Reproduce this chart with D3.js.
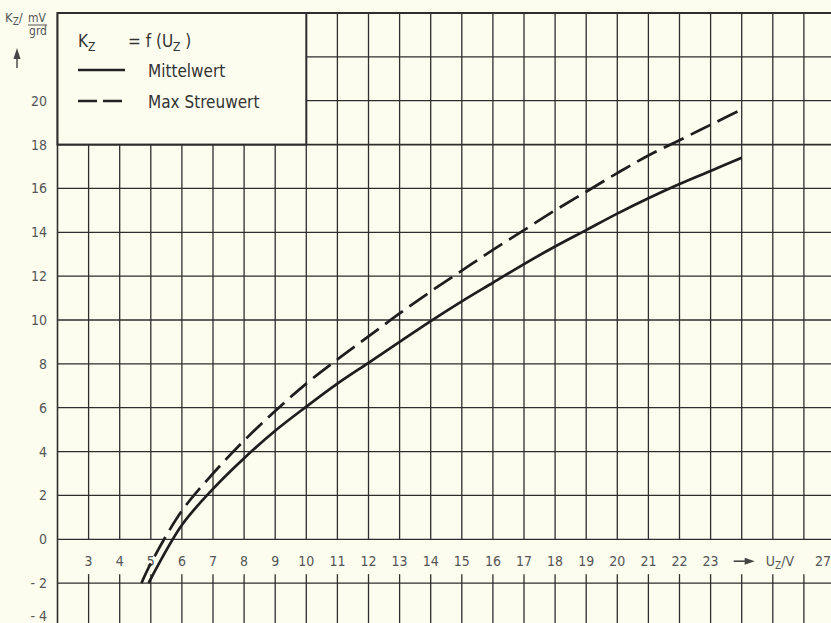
<!DOCTYPE html>
<html>
<head>
<meta charset="utf-8">
<script src="https://cdn.jsdelivr.net/npm/d3@7"></script>
<style>
  body { margin: 0; background: #fcfcef; }
  svg { display: block; }
  text { font-family: "DejaVu Sans Condensed", "DejaVu Sans", sans-serif; }
</style>
</head>
<body>
<div id="chart"></div>
<script>
// Data: K_z (mV/grd) over U_z (V)
const uzMittel = [4.93, 5, 6, 7, 8, 9, 10, 11, 12, 13, 14, 15, 16, 17, 18, 19, 20, 21, 22, 23, 24];
const kzMittel = [-2, -1.8, 0.65, 2.3, 3.7, 4.95, 6.05, 7.1, 8.05, 9.0, 9.95, 10.85, 11.7, 12.55, 13.35, 14.1, 14.85, 15.55, 16.2, 16.8, 17.4];
const uzMax = [4.7, 5, 6, 7, 8, 9, 10, 11, 12, 13, 14, 15, 16, 17, 18, 19, 20, 21, 22, 23, 24];
const kzMax = [-2, -1.1, 1.3, 3.0, 4.5, 5.85, 7.1, 8.2, 9.25, 10.3, 11.3, 12.25, 13.2, 14.1, 15.0, 15.85, 16.7, 17.5, 18.2, 18.9, 19.6];

const xTicks = [3, 4, 5, 6, 7, 8, 9, 10, 11, 12, 13, 14, 15, 16, 17, 18, 19, 20, 21, 22, 23];
const xGrid = [3, 4, 5, 6, 7, 8, 9, 10, 11, 12, 13, 14, 15, 16, 17, 18, 19, 20, 21, 22, 23, 24, 25, 26, 27];
const yTicks = [20, 18, 16, 14, 12, 10, 8, 6, 4, 2, 0, -2];
const yGrid = [22, 20, 18, 16, 14, 12, 10, 8, 6, 4, 2, 0, -2, -4];

const width = 831, height = 623;
const ink = "#2e2e2e";

const svg = d3.select("#chart")
    .append("svg")
    .attr("width", width)
    .attr("height", height);

svg.append("rect")
    .attr("width", width)
    .attr("height", height)
    .attr("fill", "#fcfcef");

const x = d3.scaleLinear().domain([2, 27]).range([57.5, 835]);
const y = d3.scaleLinear().domain([-4, 24]).range([627, 13]);

const grid = svg.append("g");

// vertical grid lines, broken by the label band between 0 and -2
xGrid.forEach(v => {
    const top = v <= 10 ? y(18) : y(24);
    grid.append("line")
        .attr("x1", x(v)).attr("x2", x(v))
        .attr("y1", top).attr("y2", y(0))
        .attr("stroke", ink).attr("stroke-width", 1.3);
    grid.append("line")
        .attr("x1", x(v)).attr("x2", x(v))
        .attr("y1", y(-2) - 9).attr("y2", height)
        .attr("stroke", ink).attr("stroke-width", 1.3);
});

// left border
grid.append("line")
    .attr("x1", x(2)).attr("x2", x(2))
    .attr("y1", y(24)).attr("y2", height)
    .attr("stroke", ink).attr("stroke-width", 1.6);

// horizontal grid lines
yGrid.forEach(v => {
    grid.append("line")
        .attr("x1", v > 18 ? x(10) : x(2)).attr("x2", width)
        .attr("y1", y(v)).attr("y2", y(v))
        .attr("stroke", ink).attr("stroke-width", v === 18 ? 1.8 : 1.3);
});

// top border
grid.append("line")
    .attr("x1", x(2)).attr("x2", width)
    .attr("y1", y(24)).attr("y2", y(24))
    .attr("stroke", ink).attr("stroke-width", 2);

// legend box
svg.append("rect")
    .attr("x", x(2)).attr("y", y(24))
    .attr("width", x(10) - x(2)).attr("height", y(18) - y(24))
    .attr("fill", "#fcfcef")
    .attr("stroke", ink).attr("stroke-width", 2);

// y tick labels
svg.append("g").selectAll("text")
    .data(yTicks)
    .join("text")
    .attr("x", 47)
    .attr("y", d => y(d) + 5)
    .attr("text-anchor", "end")
    .attr("font-size", 14)
    .attr("fill", "#555")
    .text(d => d < 0 ? "- " + Math.abs(d) : d);

// the last label sits at the bottom edge, as in the scan
svg.append("text")
    .attr("x", 47)
    .attr("y", height - 2)
    .attr("text-anchor", "end")
    .attr("font-size", 14)
    .attr("fill", "#555")
    .text("- 4");

// x tick labels in the band
svg.append("g").selectAll("text")
    .data(xTicks)
    .join("text")
    .attr("x", d => x(d))
    .attr("y", y(-1) + 5)
    .attr("text-anchor", "middle")
    .attr("font-size", 14)
    .attr("fill", "#555")
    .text(d => d);

svg.append("text")
    .attr("x", x(27) - 12)
    .attr("y", y(-1) + 5)
    .attr("text-anchor", "middle")
    .attr("font-size", 14)
    .attr("fill", "#555")
    .text("27");

// x axis arrow and unit
const ax = x(24);
svg.append("line")
    .attr("x1", ax - 8).attr("x2", ax + 6)
    .attr("y1", y(-1)).attr("y2", y(-1))
    .attr("stroke", "#444").attr("stroke-width", 1.6);
svg.append("path")
    .attr("d", `M${ax + 13},${y(-1)} L${ax + 3},${y(-1) - 3.5} L${ax + 3},${y(-1) + 3.5} Z`)
    .attr("fill", "#444");

const uLabel = svg.append("text")
    .attr("x", x(25) - 7)
    .attr("y", y(-1) + 5)
    .attr("font-size", 14)
    .attr("fill", "#555");
uLabel.append("tspan").text("U");
uLabel.append("tspan").attr("font-size", 10).attr("dy", 3).text("Z");
uLabel.append("tspan").attr("dy", -3).text("/V");

// y axis title: K_z / (mV / grd)
const kLabel = svg.append("text")
    .attr("x", 5)
    .attr("y", 22)
    .attr("font-size", 13)
    .attr("fill", "#555");
kLabel.append("tspan").text("K");
kLabel.append("tspan").attr("font-size", 10).attr("dy", 3).text("Z");
kLabel.append("tspan").attr("dy", -3).text("/");

svg.append("text")
    .attr("x", 37).attr("y", 22)
    .attr("text-anchor", "middle")
    .attr("font-size", 12).attr("fill", "#555")
    .text("mV");
svg.append("line")
    .attr("x1", 28).attr("x2", 47)
    .attr("y1", 25).attr("y2", 25)
    .attr("stroke", "#555").attr("stroke-width", 1);
svg.append("text")
    .attr("x", 38).attr("y", 35)
    .attr("text-anchor", "middle")
    .attr("font-size", 12).attr("fill", "#555")
    .text("grd");

// y axis arrow
svg.append("line")
    .attr("x1", 17).attr("x2", 17)
    .attr("y1", 56).attr("y2", 68)
    .attr("stroke", "#444").attr("stroke-width", 1.4);
svg.append("path")
    .attr("d", "M17,48 L13.5,59 L20.5,59 Z")
    .attr("fill", "#444");

// legend content
const lg = svg.append("g");
const kf = lg.append("text")
    .attr("x", 78).attr("y", 47)
    .attr("font-size", 17).attr("fill", "#333");
kf.append("tspan").text("K");
kf.append("tspan").attr("font-size", 12).attr("dy", 4).text("Z");
kf.append("tspan").attr("dy", -4).attr("x", 128).text("= f (U");
kf.append("tspan").attr("font-size", 12).attr("dy", 4).text("Z");
kf.append("tspan").attr("dy", -4).text(" )");

lg.append("line")
    .attr("x1", 78).attr("x2", 125)
    .attr("y1", 70).attr("y2", 70)
    .attr("stroke", "#222").attr("stroke-width", 2.5);
lg.append("text")
    .attr("x", 148).attr("y", 77)
    .attr("font-size", 17).attr("fill", "#333")
    .text("Mittelwert");

lg.append("line")
    .attr("x1", 78).attr("x2", 125)
    .attr("y1", 101).attr("y2", 101)
    .attr("stroke", "#222").attr("stroke-width", 2.5)
    .attr("stroke-dasharray", "19,6");
lg.append("text")
    .attr("x", 148).attr("y", 108)
    .attr("font-size", 17).attr("fill", "#333")
    .text("Max Streuwert");

// curves
const line = d3.line()
    .x(d => x(d[0]))
    .y(d => y(d[1]))
    .curve(d3.curveCatmullRom);

svg.append("path")
    .datum(d3.zip(uzMittel, kzMittel))
    .attr("d", line)
    .attr("fill", "none")
    .attr("stroke", "#1e1e1e")
    .attr("stroke-width", 2.7);

svg.append("path")
    .datum(d3.zip(uzMax, kzMax))
    .attr("d", line)
    .attr("fill", "none")
    .attr("stroke", "#1e1e1e")
    .attr("stroke-width", 2.7)
    .attr("stroke-dasharray", "22,8");
</script>
</body>
</html>
